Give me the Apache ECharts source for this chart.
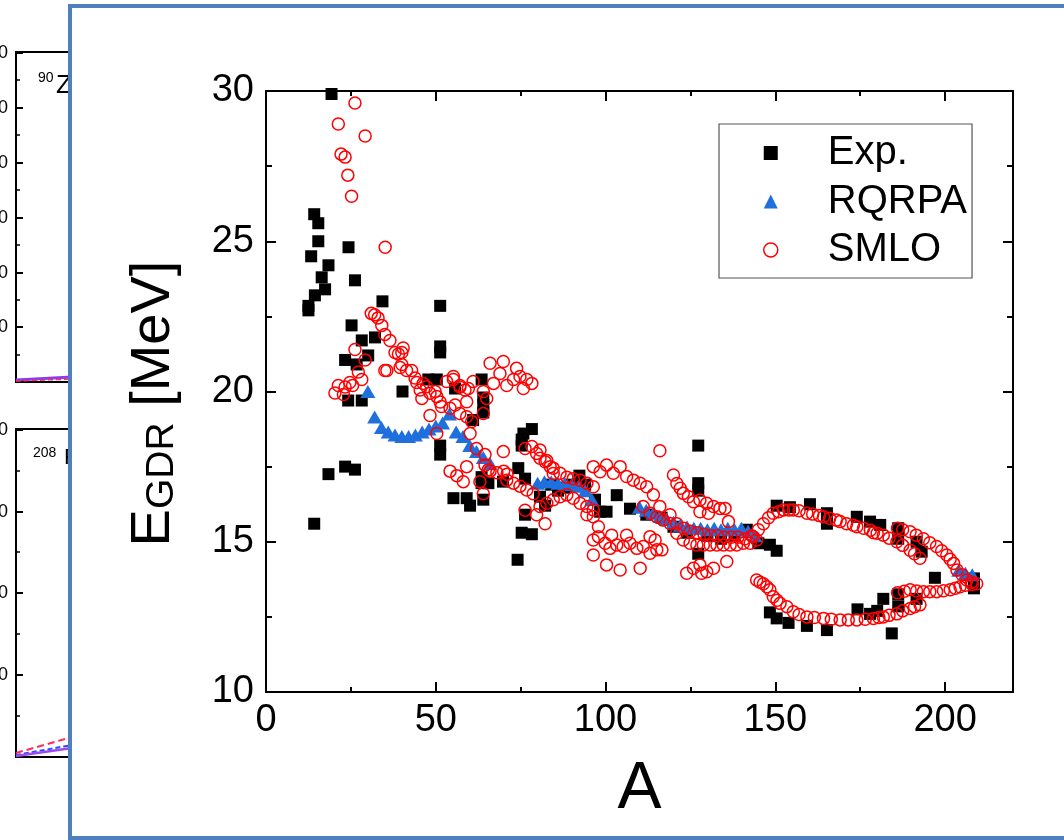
<!DOCTYPE html>
<html>
<head>
<meta charset="utf-8">
<title>E_GDR vs A</title>
<script src="https://cdn.jsdelivr.net/npm/echarts@6/dist/echarts.min.js"></script>
<style>
  html, body { margin: 0; padding: 0; background: #fff; }
  #chart { width: 1064px; height: 840px; }
</style>
</head>
<body>
<div id="chart"></div>
<script>
// values: [A, E_GDR (MeV)]
const expPoints = [
  [12.5, 22.7], [12.5, 22.85], [13.3, 24.5], [14.2, 25.9], [15.4, 25.6], [15.4, 25.0], [14.4, 23.2],
  [16.4, 23.8], [17.4, 23.4], [18.4, 24.2], [14.2, 15.6], [18.4, 17.25], [23.3, 17.5], [26.2, 17.4],
  [19.3, 29.9], [24.3, 24.8], [26.2, 23.7], [25.2, 22.2], [34.3, 23.0], [28.2, 21.7], [32.1, 21.8],
  [30.1, 21.2], [23.3, 21.05], [26.7, 20.9], [24.2, 19.7], [28.2, 19.7], [40.2, 20.0], [47.8, 20.4],
  [50.3, 20.4], [51.3, 22.85], [51.3, 21.5], [51.3, 21.3], [55.7, 20.1], [63.5, 20.4], [64, 19.8],
  [64, 19.55], [64, 19.3], [61, 19.05], [51.3, 18.2], [51.3, 17.9], [55.2, 16.45], [59.1, 16.45],
  [60.1, 16.2], [64, 16.4], [63.5, 17.15], [63.5, 16.95], [65.5, 16.95], [69.8, 17.0], [75.8, 18.6],
  [78.3, 18.75], [75.3, 18.4], [75.3, 18.2], [74.3, 17.45], [76.3, 17.1], [76.3, 15.9], [75.3, 15.3],
  [78.3, 15.25], [74.1, 14.4], [80.7, 16.5], [82.2, 16.2], [86, 16.7], [90, 16.9], [92.3, 17.2],
  [96.9, 16.4], [98.4, 16.0], [100.3, 16.0], [103.3, 16.55], [107.2, 16.1], [112, 15.9], [116.5, 15.8],
  [120, 15.5], [124, 15.3], [127.3, 18.2], [127.3, 16.95], [127.3, 16.7], [127.3, 14.6], [130, 15.2],
  [134, 15.1], [138, 15.2], [141.6, 15.4], [145, 14.95], [148.4, 14.9], [150.4, 14.7], [150.4, 16.2],
  [154.3, 16.15], [160.2, 16.25], [165.2, 15.95], [165.2, 15.6], [174, 15.83], [177.9, 15.67],
  [180.9, 15.56], [186.2, 15.45], [186.2, 15.1], [191.6, 15.0], [193.1, 14.67], [197, 13.8],
  [208.5, 13.78], [208.5, 13.45], [148.4, 12.65], [150.4, 12.45], [153.9, 12.3], [159.3, 12.2],
  [165.2, 12.06], [174.2, 12.75], [177.9, 12.6], [180, 12.7], [181.8, 13.1], [184.3, 11.95],
  [186.2, 13.25], [186.2, 12.85], [191.6, 13.1], [88, 16.8], [84, 16.9], [94, 16.9]
];

const rqrpaPoints = [
  [30, 20.0], [32, 19.15], [34, 18.8], [36, 18.65], [38, 18.55], [40, 18.5], [42, 18.5], [44, 18.55],
  [46, 18.65], [48, 18.75], [50, 18.85], [52, 18.95], [54, 19.25], [56, 18.65], [58, 18.5], [60, 18.2],
  [62, 18.0], [64, 17.8], [66, 17.6],
  [80, 16.95], [82, 17.0], [84, 17.0], [86, 16.95], [88, 16.95], [90, 16.9], [92, 16.85], [94, 16.7], [96, 16.4],
  [110, 16.15], [112, 16.05], [114, 15.95], [116, 15.85], [118, 15.75], [120, 15.65], [122, 15.55],
  [124, 15.5], [126, 15.45], [128, 15.45], [130, 15.4], [132, 15.45], [134, 15.4], [136, 15.45],
  [138, 15.4], [140, 15.45], [142, 15.35], [144, 15.2],
  [204, 14.05], [206, 13.95], [208, 13.9]
];

const smloPoints = [
  // light nuclei
  [21.3, 28.9], [22.1, 27.9], [23.3, 27.8], [24.1, 27.2], [25.2, 26.5], [26.2, 29.6], [29.2, 28.5], [35.1, 24.8],
  [20.3, 19.95], [21.3, 20.2], [22.8, 19.9], [23.3, 20.15], [24.7, 20.3], [25.5, 20.2], [27.2, 20.65],
  [28.2, 20.4], [26.2, 21.4], [29.2, 21.05], [35, 20.7],
  [31, 22.6], [32, 22.55], [33, 22.45], [34.1, 22.2], [35, 21.9], [36.5, 21.7], [38, 21.3], [39, 21.25],
  [40, 21.3], [40.4, 21.45], [35.6, 20.7], [40, 20.9], [41.4, 20.7], [42.9, 20.7], [39.5, 20.8],
  [43.9, 20.45], [44.4, 20.3], [46.3, 20.27], [45.4, 20.05], [47.3, 20.16], [48.3, 19.94], [49.8, 20.0],
  [50.3, 19.83], [51.3, 19.65], [45.9, 19.77], [51.7, 19.5], [54.2, 19.44], [55.7, 19.55], [55.2, 20.4],
  [53.2, 20.33], [57.1, 20.2], [58.6, 20.05], [48.3, 19.2], [50.3, 18.6], [59.1, 19.66], [57.1, 19.27],
  [59.1, 19.16], [60.6, 19.0], [60.1, 18.6], [62, 18.1], [64.5, 17.9], [64.5, 17.55], [65.5, 17.4],
  [54.2, 17.35], [56.2, 17.2], [58.1, 17.0], [59.1, 17.5], [63, 17.0], [64, 16.6], [66, 17.35], [68, 17.3],
  [70, 17.35], [71, 17.25], [70.9, 17.05], [72.9, 16.95], [74.8, 16.85], [76.8, 16.72], [78.7, 16.6],
  [69.9, 18.0], [76.3, 16.05], [79.7, 15.9], [82.2, 15.6],
  [55.2, 20.5], [57.1, 20.15], [59.6, 20.1], [61, 20.33], [64, 20.0], [65, 19.77], [64, 19.27],
  [66, 20.94], [69.9, 21.0], [73.8, 20.77], [68.9, 20.6], [67, 20.27], [70.9, 20.2], [72.9, 20.4],
  [74.8, 20.5], [76.8, 20.4], [78.3, 20.27], [75.8, 20.1],
  [76.3, 18.1], [78.3, 18.17], [79.7, 17.94], [80.7, 17.78], [82.2, 17.66], [83.7, 17.5], [84.6, 17.27],
  // A 80 - 116
  [80.7, 18.05], [82.7, 17.7], [84.6, 17.45], [86.6, 17.28], [88.6, 17.15], [90.5, 17.1], [92.5, 17.05],
  [94.5, 16.95], [96.4, 16.83],
  [80.7, 16.17], [82.7, 16.28], [84.6, 16.4], [86.6, 16.5], [88.6, 16.56], [90.5, 16.45], [92.5, 16.28],
  [94.5, 16.17], [96.4, 16.06], [94.5, 15.9], [96.4, 15.83], [97.9, 15.5],
  [96.4, 17.5], [98.4, 17.33], [100.3, 17.55], [102.3, 17.28], [104.3, 17.5], [106.2, 17.17], [108.2, 17.05],
  [110.2, 16.95], [112.1, 16.83], [114.1, 16.56], [116, 16.17],
  [96.4, 15.06], [97.9, 15.17], [99.9, 14.95], [101.3, 14.78], [103.3, 14.89], [105.2, 14.84], [107.2, 14.95],
  [109.2, 14.78], [111.1, 14.84], [113.1, 14.62], [115.1, 14.73], [96.4, 14.56], [100.3, 14.23],
  [104.3, 14.06], [110.2, 14.12], [113.1, 15.17], [114.6, 15.06], [116.6, 14.73], [106.2, 15.22], [101.8, 15.22],
  // A 110 - 145
  [111.1, 16.17], [113.1, 15.95], [115.1, 15.83], [117, 15.72], [119, 15.61], [121, 15.28], [122.9, 15.06],
  [124.9, 14.95], [126.9, 14.89], [128.8, 14.89], [130.8, 14.89], [132.8, 14.89], [134.7, 14.89],
  [136.7, 14.89], [138.6, 14.89], [140.6, 14.95], [142.6, 14.95], [144.5, 15.06],
  [119, 15.9], [121, 15.6], [123, 15.45], [125, 15.35], [127, 15.3], [129, 15.25], [131, 15.2], [133, 15.2],
  [135, 15.15], [137, 15.15], [139, 15.15], [141, 15.1], [143, 15.2],
  [116, 18.03], [120, 17.22], [121, 16.94], [122, 16.78], [122.9, 16.61], [124.4, 16.5], [125.9, 16.33],
  [127.8, 16.39], [129.8, 16.28], [131.8, 16.17], [133.7, 16.11], [135.2, 16.11], [130.3, 15.95],
  [127.8, 16.0], [136.2, 15.67],
  [123.9, 13.95], [125.9, 14.12], [127.8, 14.23], [129.8, 14.0], [131.8, 14.12], [128.3, 13.95], [135.7, 14.34],
  // heavy nuclei, upper branch
  [143.5, 15.17], [145, 15.4], [146.5, 15.6], [148, 15.8], [149.4, 15.95], [151, 16.0], [152.4, 16.06],
  [154, 16.06], [155.3, 16.06], [157, 16.03], [159.3, 15.95], [161, 15.92], [163, 15.87], [164.2, 15.83],
  [166, 15.78], [168, 15.72], [169.1, 15.67], [171, 15.6], [173, 15.55], [174, 15.5], [176, 15.45],
  [178, 15.38], [178.9, 15.3], [180, 15.28], [181.8, 15.22], [183.5, 15.12], [185.8, 15.0], [187.5, 14.88],
  [189.7, 14.72], [191, 14.6], [192.6, 14.45],
  [186, 15.45], [187.5, 15.4], [189.7, 15.33], [191.5, 15.22], [193.6, 15.1], [195.5, 14.97], [197.5, 14.84],
  [199, 14.7], [200.5, 14.56], [201.5, 14.42], [202.5, 14.28], [203.5, 14.06], [205, 13.9], [206.4, 13.73],
  [207.8, 13.65], [209.3, 13.6],
  [186, 13.3], [188, 13.35], [189.7, 13.4], [191.6, 13.36], [193.6, 13.34], [195.5, 13.34], [197.5, 13.34],
  [199.5, 13.37], [201.5, 13.4], [203, 13.45], [204.4, 13.5], [206, 13.55], [208, 13.58],
  // heavy nuclei, lower branch
  [144.5, 13.73], [145.5, 13.65], [146.5, 13.6], [147.5, 13.5], [148.4, 13.4], [149.4, 13.17], [150.5, 13.05],
  [151.4, 12.95], [153.4, 12.84], [155.3, 12.67], [157, 12.58], [159.3, 12.5], [161.5, 12.48], [164.2, 12.45],
  [166.5, 12.42], [169.1, 12.4], [171.5, 12.4], [174, 12.4], [176.5, 12.42], [178.9, 12.45], [180.5, 12.48],
  [181.8, 12.5], [183.5, 12.55], [185.8, 12.6], [187.5, 12.7], [189.7, 12.78], [191, 12.84], [192.6, 12.9]
];

const seriesNames = ['Exp.', 'RQRPA', 'SMLO'];
const xTicks = [0, 220];
const yTicks = [10, 30];

const FONT = 'Liberation Sans, Arial, sans-serif';
const BLUE = '#1f6fdc';
const RED = '#ff0000';

// bits of the neighbouring figures that peek out at the left edge
function sidePanels() {
  const els = [];
  const line = (x1, y1, x2, y2, color, w, dash) => els.push({
    type: 'line', z: -20, silent: true,
    shape: { x1: x1, y1: y1, x2: x2, y2: y2 },
    style: { stroke: color, lineWidth: w, lineDash: dash || null }
  });
  const text = (x, y, t, size, align) => els.push({
    type: 'text', z: -20, silent: true, x: x, y: y,
    style: { text: t, font: size + 'px ' + FONT, fill: '#000', align: align || 'left', verticalAlign: 'middle' }
  });
  // upper panel
  line(16, 52, 16, 382, '#000', 2);
  line(15, 52, 72, 52, '#000', 2);
  line(15, 382, 72, 382, '#000', 2);
  [53, 108, 163, 218, 273, 327].forEach(y => { line(16, y, 23, y, '#000', 2); text(8, y, '0', 18, 'right'); });
  [80, 135, 190, 245, 300, 355].forEach(y => line(16, y, 20, y, '#000', 1.5));
  text(38, 78, '90', 14);
  text(56, 86, 'Z', 26);
  line(16, 380, 72, 377, '#8a3cf0', 3);
  line(16, 381, 72, 379, '#ff2a55', 1.5, [5, 3]);
  // lower panel
  line(16, 429, 16, 757, '#000', 2);
  line(15, 429, 72, 429, '#000', 2);
  line(15, 757, 72, 757, '#000', 2);
  [430, 512, 593, 675].forEach(y => { line(16, y, 23, y, '#000', 2); text(8, y, '0', 18, 'right'); });
  [471, 552, 634, 716].forEach(y => line(16, y, 20, y, '#000', 1.5));
  text(33, 453, '208', 14);
  text(64, 458, 'P', 22);
  line(16, 753, 72, 737, '#ff2a55', 2, [7, 4]);
  line(16, 755, 72, 745, '#2a4cff', 2, [5, 3]);
  line(16, 756, 72, 748, '#9a4cf0', 2.5);
  return els;
}

const chart = echarts.init(document.getElementById('chart'), null, { renderer: 'canvas' });

const axisText = { color: '#000', fontSize: 38, fontFamily: FONT };
// onZero off so the right-hand axis stays on the right
const frameLine = { show: true, onZero: false, lineStyle: { color: '#000', width: 2 } };
const noLine = { show: false, onZero: false };
const majorTick = { show: true, inside: true, length: 10, lineStyle: { color: '#000', width: 2 } };
const minorTickX = { show: true, inside: true, length: 5, lineStyle: { color: '#000', width: 2 } };
const minorTickY = { show: true, splitNumber: 2, length: 6, lineStyle: { color: '#000', width: 2 } };

chart.setOption({
  animation: false,
  backgroundColor: '#ffffff',
  textStyle: { fontFamily: FONT },
  graphic: sidePanels().concat([{
    type: 'rect', z: -10, silent: true,
    shape: { x: 70, y: 6, width: 1100, height: 832 },
    style: { fill: '#ffffff', stroke: '#4f7fbf', lineWidth: 4 }
  }]),
  legend: {
    orient: 'vertical',
    left: 719,
    top: 124,
    padding: [8, 5, 7, 44],
    itemGap: 6.5,
    itemWidth: 14,
    itemHeight: 14,
    borderColor: '#555',
    borderWidth: 1.2,
    backgroundColor: '#fff',
    textStyle: { color: '#000', fontSize: 40, fontFamily: FONT, lineHeight: 42, padding: [0, 0, 0, 45] },
    data: [
      { name: seriesNames[0], icon: 'rect' },
      { name: seriesNames[1], icon: 'triangle' },
      { name: seriesNames[2], icon: 'circle', itemStyle: { color: 'rgba(0,0,0,0)', borderColor: RED, borderWidth: 1.5 } }
    ]
  },
  grid: { left: 266, right: 51, top: 91, bottom: 148 },
  xAxis: [
    {
      type: 'value', position: 'bottom', min: xTicks[0], max: xTicks[1], interval: 50,
      name: 'A', nameLocation: 'middle', nameGap: 65,
      nameTextStyle: { color: '#000', fontSize: 66, fontFamily: FONT },
      axisLine: frameLine,
      axisTick: majorTick,
      axisLabel: Object.assign({ margin: 10, showMaxLabel: false }, axisText),
      splitLine: { show: false }
    },
    {
      type: 'value', position: 'bottom', min: xTicks[0], max: xTicks[1], interval: 25,
      axisLine: noLine,
      axisTick: minorTickX,
      axisLabel: { show: false }, splitLine: { show: false }
    },
    {
      type: 'value', position: 'top', min: xTicks[0], max: xTicks[1], interval: 50,
      axisLine: frameLine,
      axisTick: majorTick,
      axisLabel: { show: false }, splitLine: { show: false }
    },
    {
      type: 'value', position: 'top', min: xTicks[0], max: xTicks[1], interval: 25,
      axisLine: noLine,
      axisTick: minorTickX,
      axisLabel: { show: false }, splitLine: { show: false }
    }
  ],
  yAxis: [
    {
      type: 'value', position: 'left', min: yTicks[0], max: yTicks[1], interval: 5,
      name: '{e|E}{s|GDR}{e| [MeV]}', nameLocation: 'middle', nameRotate: 90, nameGap: 84,
      nameTextStyle: {
        padding: [0, 24, 0, 0],
        rich: {
          e: { color: '#000', fontSize: 56, fontFamily: FONT, lineHeight: 62, verticalAlign: 'bottom' },
          s: { color: '#000', fontSize: 39, fontFamily: FONT, lineHeight: 27, verticalAlign: 'bottom' }
        }
      },
      axisLine: frameLine,
      axisTick: majorTick,
      minorTick: minorTickY,
      axisLabel: Object.assign({ margin: 12 }, axisText),
      splitLine: { show: false }
    },
    {
      type: 'value', position: 'right', min: yTicks[0], max: yTicks[1], interval: 5,
      axisLine: frameLine,
      axisTick: majorTick,
      minorTick: minorTickY,
      axisLabel: { show: false }, splitLine: { show: false }
    }
  ],
  series: [
    {
      name: seriesNames[0], type: 'scatter', symbol: 'rect', symbolSize: 12,
      itemStyle: { color: '#000', opacity: 1 },
      data: expPoints
    },
    {
      name: seriesNames[1], type: 'scatter', symbol: 'triangle', symbolSize: [15, 13],
      itemStyle: { color: BLUE, opacity: 1 },
      data: rqrpaPoints
    },
    {
      name: seriesNames[2], type: 'scatter', symbol: 'circle', symbolSize: 12,
      itemStyle: { color: 'rgba(0,0,0,0)', borderColor: RED, borderWidth: 1.5, opacity: 1 },
      data: smloPoints
    }
  ]
});
</script>
</body>
</html>
